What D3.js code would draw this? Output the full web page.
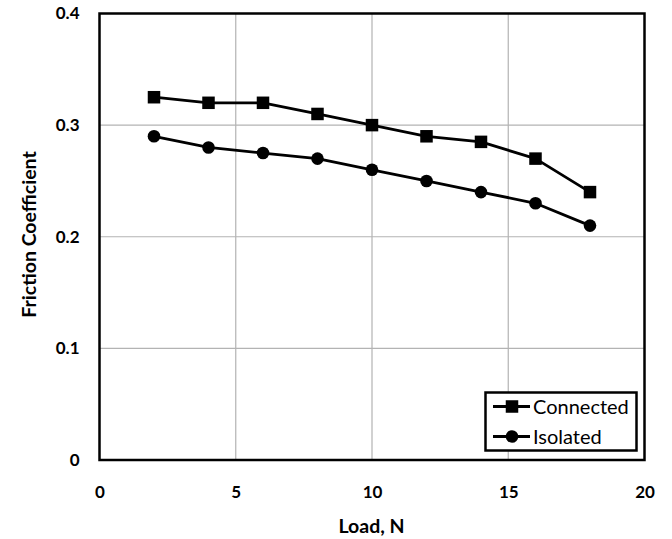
<!DOCTYPE html>
<html><head><meta charset="utf-8">
<script src="https://cdn.jsdelivr.net/npm/d3@7"></script>
<style>body{margin:0;background:#fff}svg{display:block}</style>
</head><body>
<script>
const loads = [2, 4, 6, 8, 10, 12, 14, 16, 18];
const connected = [0.325, 0.32, 0.32, 0.31, 0.30, 0.29, 0.285, 0.27, 0.24];
const isolated = [0.29, 0.28, 0.275, 0.27, 0.26, 0.25, 0.24, 0.23, 0.21];
const xTicks = [0, 5, 10, 15, 20];
const yTicks = [0, 0.1, 0.2, 0.3, 0.4];
const seriesNames = ["Connected", "Isolated"];

const W = 672, H = 539;
const L = 99.5, R = 644.5, T = 13.5, B = 460;
const font = "Lato, 'Open Sans', sans-serif";

const svg = d3.select("body").append("svg").attr("width", W).attr("height", H);
const x = d3.scaleLinear().domain([0, 20]).range([L, R]);
const y = d3.scaleLinear().domain([0, 0.4]).range([B, T]);

// gridlines
svg.append("g").selectAll("line.v").data(xTicks.slice(1, -1)).join("line")
  .attr("x1", d => x(d)).attr("x2", d => x(d)).attr("y1", T).attr("y2", B)
  .attr("stroke", "#b3b3b3").attr("stroke-width", 1.2);
svg.append("g").selectAll("line.h").data(yTicks.slice(1, -1)).join("line")
  .attr("y1", d => y(d)).attr("y2", d => y(d)).attr("x1", L).attr("x2", R)
  .attr("stroke", "#b3b3b3").attr("stroke-width", 1.2);

// axes via d3 axis (labels only)
const xAxis = svg.append("g").attr("transform", `translate(0,${B})`)
  .call(d3.axisBottom(x).tickValues(xTicks).tickSize(0).tickPadding(26).tickFormat(d3.format("d")));
const yAxis = svg.append("g").attr("transform", `translate(${L},0)`)
  .call(d3.axisLeft(y).tickValues(yTicks).tickSize(0).tickPadding(20).tickFormat(d => d === 0 ? "0" : d3.format(".1f")(d)));
[xAxis, yAxis].forEach(g => {
  g.select(".domain").remove();
  g.selectAll("text").attr("font-family", font).attr("font-weight", "bold")
    .attr("font-size", 17).attr("fill", "#000");
});

// plot border
svg.append("rect").attr("x", L).attr("y", T).attr("width", R - L).attr("height", B - T)
  .attr("fill", "none").attr("stroke", "#000").attr("stroke-width", 2.5);

// lines
const line = d3.line().x((d, i) => x(loads[i])).y(d => y(d));
[connected, isolated].forEach(s => {
  svg.append("path").datum(s).attr("d", line).attr("fill", "none")
    .attr("stroke", "#000").attr("stroke-width", 2.8).attr("stroke-linejoin", "round");
});
const sq = 12.5;
svg.append("g").selectAll("rect").data(connected).join("rect")
  .attr("x", (d, i) => x(loads[i]) - sq / 2).attr("y", d => y(d) - sq / 2)
  .attr("width", sq).attr("height", sq).attr("fill", "#000");
svg.append("g").selectAll("circle").data(isolated).join("circle")
  .attr("cx", (d, i) => x(loads[i])).attr("cy", d => y(d)).attr("r", 6.3).attr("fill", "#000");

// axis titles
svg.append("text").attr("x", 371.5).attr("y", 533).attr("text-anchor", "middle")
  .attr("font-family", font).attr("font-weight", "bold").attr("font-size", 19.5).text("Load, N");
svg.append("text").attr("transform", `translate(36,234.5) rotate(-90)`).attr("text-anchor", "middle")
  .attr("font-family", font).attr("font-weight", "bold").attr("font-size", 19.5).text("Friction Coefficient");

// legend
const lg = svg.append("g");
lg.append("rect").attr("x", 485.5).attr("y", 392.5).attr("width", 151).attr("height", 58)
  .attr("fill", "#fff").attr("stroke", "#000").attr("stroke-width", 2.5);
const rows = [406.5, 436.5];
seriesNames.forEach((n, i) => {
  const cy = rows[i];
  lg.append("line").attr("x1", 493).attr("x2", 530).attr("y1", cy).attr("y2", cy)
    .attr("stroke", "#000").attr("stroke-width", 2.8);
  if (i === 0) lg.append("rect").attr("x", 512 - sq / 2).attr("y", cy - sq / 2).attr("width", sq).attr("height", sq).attr("fill", "#000");
  else lg.append("circle").attr("cx", 512).attr("cy", cy).attr("r", 6.3).attr("fill", "#000");
  lg.append("text").attr("x", 533).attr("y", cy).attr("dy", "0.36em")
    .attr("font-family", font).attr("font-size", 20).text(n);
});
</script>
</body></html>
